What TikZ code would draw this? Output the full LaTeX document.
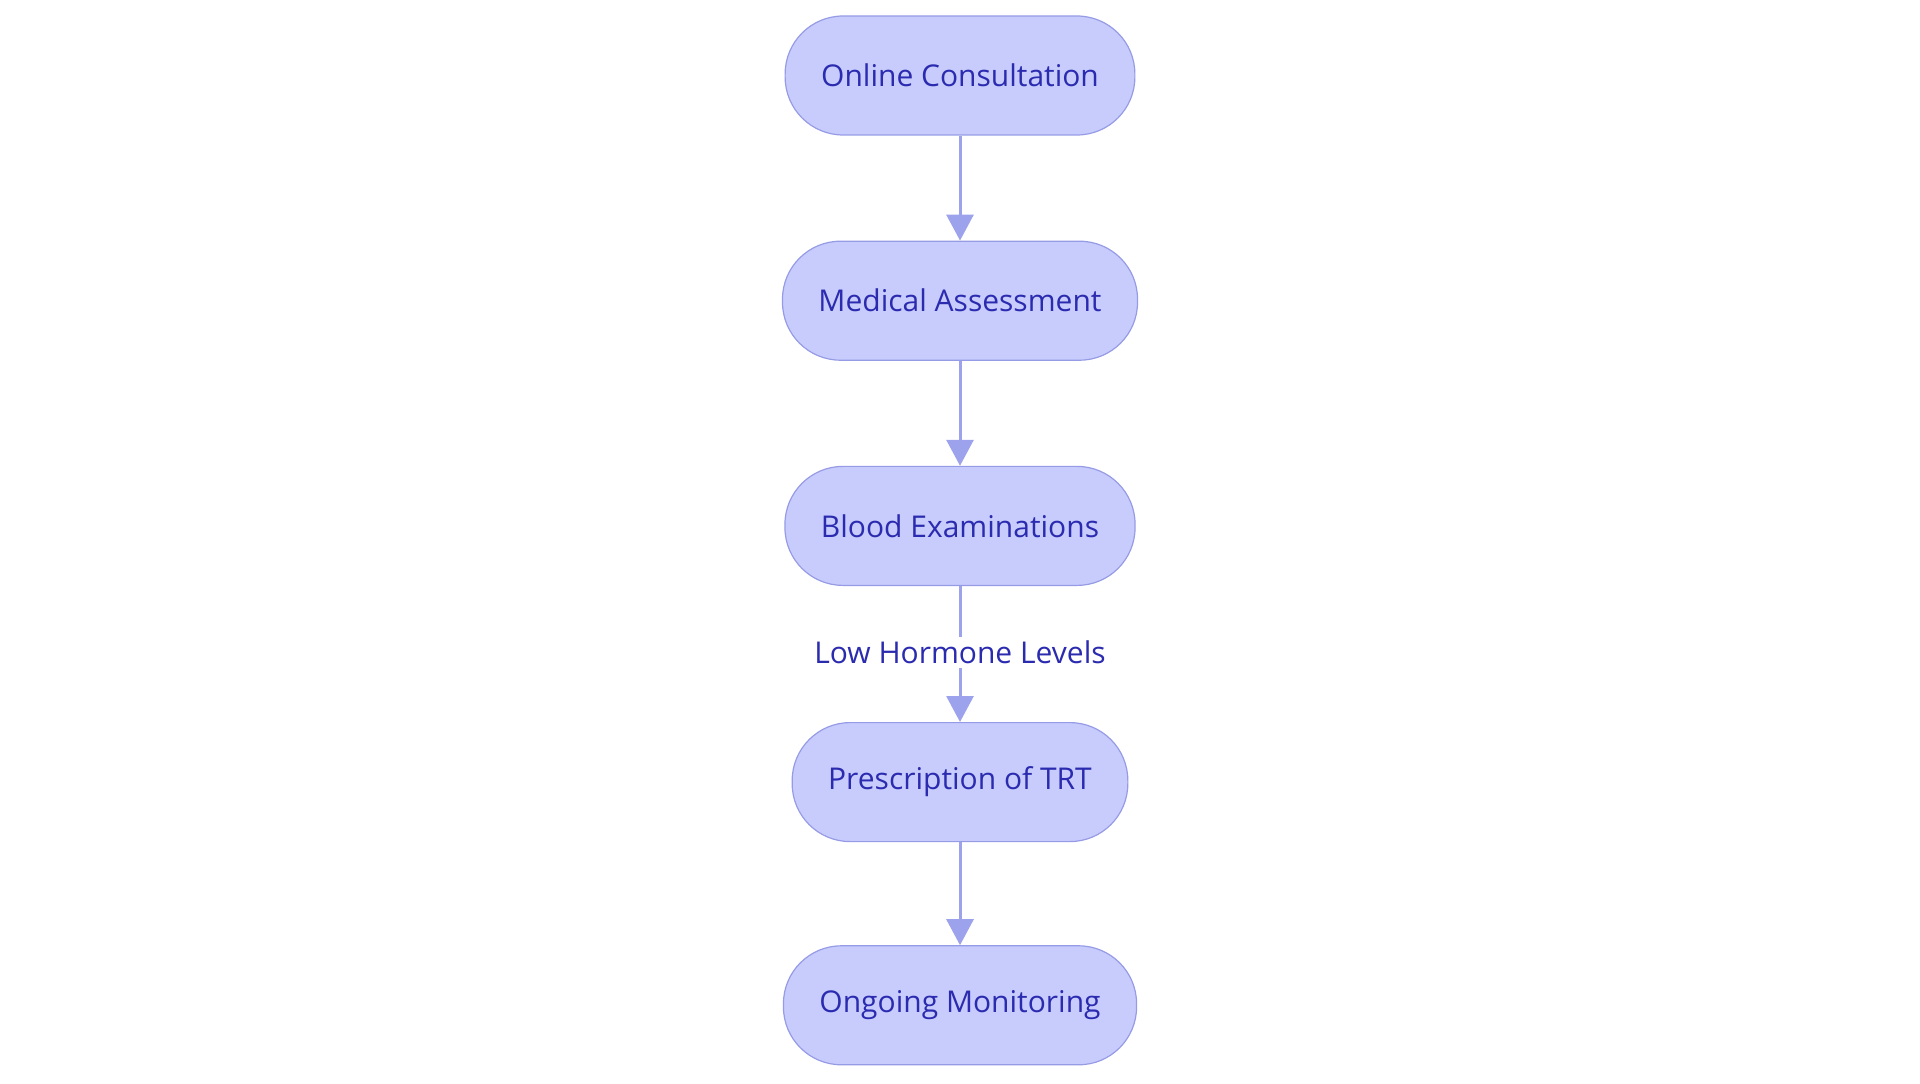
\documentclass[tikz,border=0pt]{standalone}
\usepackage{fontspec}
\setmainfont{Open Sans}
\usetikzlibrary{arrows.meta, positioning}

\definecolor{boxfill}{RGB}{200,204,252}
\definecolor{boxline}{RGB}{150,155,230}
\definecolor{arrline}{RGB}{157,162,236}
\definecolor{txtblue}{RGB}{43,43,176}

\begin{document}
\begin{tikzpicture}[x=1pt, y=1pt,
        stepbox/.style={draw=boxline, line width=0.6pt, fill=boxfill, text=txtblue,
            rounded corners=29pt, minimum height=59.5pt, inner xsep=18pt,
            font=\fontsize{15}{18}\selectfont},
        flow/.style={draw=arrline, line width=1.5pt, -{Triangle[length=13pt, width=13.5pt]}},
        lbl/.style={fill=white, text=txtblue, inner sep=2pt, font=\fontsize{15}{18}\selectfont},
        node distance=52.5pt
    ]
        \useasboundingbox (0,0) rectangle (960,541.5);

        \node[stepbox] (consult) at (480,503.75) {Online Consultation};
        \node[stepbox, below=of consult] (assess) {Medical Assessment};
        \node[stepbox, below=of assess] (blood) {Blood Examinations};
        \node[stepbox, below=68pt of blood] (trt) {Prescription of TRT};
        \node[stepbox, below=51.5pt of trt] (monitor) {Ongoing Monitoring};

        \draw[flow] (consult) -- (assess);
        \draw[flow] (assess) -- (blood);
        \draw[flow] (blood) -- node[lbl, pos=0.49] (lowlbl) {Low Hormone Levels} (trt);
        \draw[flow] (trt) -- (monitor);
    \end{tikzpicture}
\end{document}
